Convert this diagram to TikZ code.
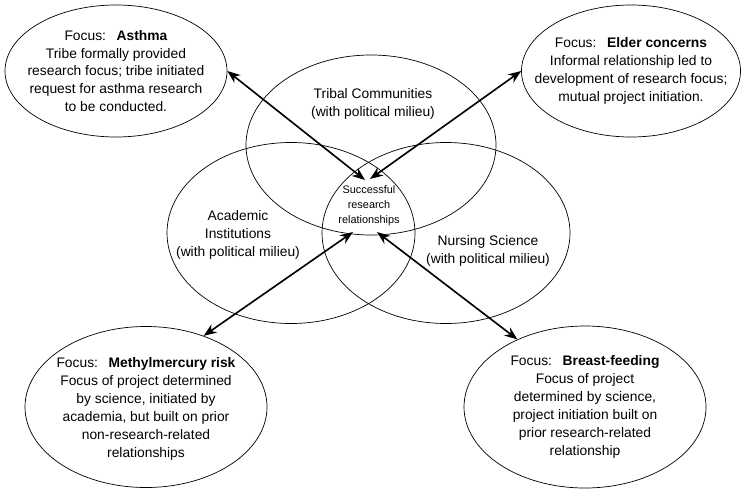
\documentclass[tikz,border=0pt]{standalone}
\usepackage{fontspec}
\setmainfont{Liberation Sans}
\usepackage{tikz}
\usetikzlibrary{shapes.geometric,arrows.meta,calc,positioning}

\newcommand{\focusgap}{\hspace{0.32cm}}

\begin{document}
\begin{tikzpicture}
	\tikzstyle{every node} = [align = center, font = \fontsize{11.8}{15.3}\selectfont]
	\tikzstyle{oval} = [ellipse, draw = black, line width = 0.6pt, inner sep = 0pt]
	\tikzstyle{link} = [line width = 1.4pt, {Stealth[length=3.9mm,width=3mm]}-{Stealth[length=3.9mm,width=3mm]}]
\useasboundingbox (0,0) rectangle (22.35,14.88);
% the three overlapping circles
\node[oval, minimum width = 7.5cm, minimum height = 5.4cm] (5) at (11.13, 10.53) {};
\node[oval, minimum width = 7.44cm, minimum height = 5.43cm] (6) at (8.73, 7.89) {};
\node[oval, minimum width = 7.44cm, minimum height = 5.43cm] (7) at (13.38, 7.89) {};
\node (15) at (11.19, 11.76) {Tribal Communities\\(with political milieu)};
\node (16) at (7.14, 7.83) {Academic\\Institutions\\(with political milieu)};
\node (17) at (14.64, 7.35) {Nursing Science\\(with political milieu)};
\node[font = \fontsize{9.3}{12.8}\selectfont] (0) at (11.07, 8.70) {Successful\\research\\relationships};
\coordinate (0a) at (10.95, 9.48);
\coordinate (0b) at (11.10, 9.51);
\coordinate (0c) at (10.59, 7.92);
\coordinate (0d) at (11.31, 7.92);
% the four projects
\node[oval, minimum width = 6.66cm, minimum height = 3.96cm] (1) at (3.48, 12.75) {};
\node[oval, minimum width = 6.57cm, minimum height = 3.96cm] (2) at (18.93, 12.75) {};
\node[oval, minimum width = 7.26cm, minimum height = 4.83cm] (3) at (4.38, 2.67) {};
\node[oval, minimum width = 7.26cm, minimum height = 4.86cm] (4) at (17.55, 2.67) {};
\node (11) at (1) {Focus:\focusgap\textbf{Asthma}\\Tribe formally provided\\research focus; tribe initiated\\request for asthma research\\to be conducted.};
\node (12) at (2) {Focus:\focusgap\textbf{Elder concerns}\\Informal relationship led to\\development of research focus;\\mutual project initiation.};
\node (13) at ($(3)+(0,-0.06)$) {Focus:\focusgap\textbf{Methylmercury risk}\\Focus of project determined\\by science, initiated by\\academia, but built on prior\\non-research-related\\relationships};
\node (14) at (4) {Focus:\focusgap\textbf{Breast-feeding}\\Focus of project\\determined by science,\\project initiation built on\\prior research-related\\relationship};
	\path[draw, link] (1.east) -- (0a);
	\path[draw, link] (2.west) -- (0b);
	\path[draw, link] (3.51) -- (0c);
	\path[draw, link] (4.135) -- (0d);
\end{tikzpicture}
\end{document}
